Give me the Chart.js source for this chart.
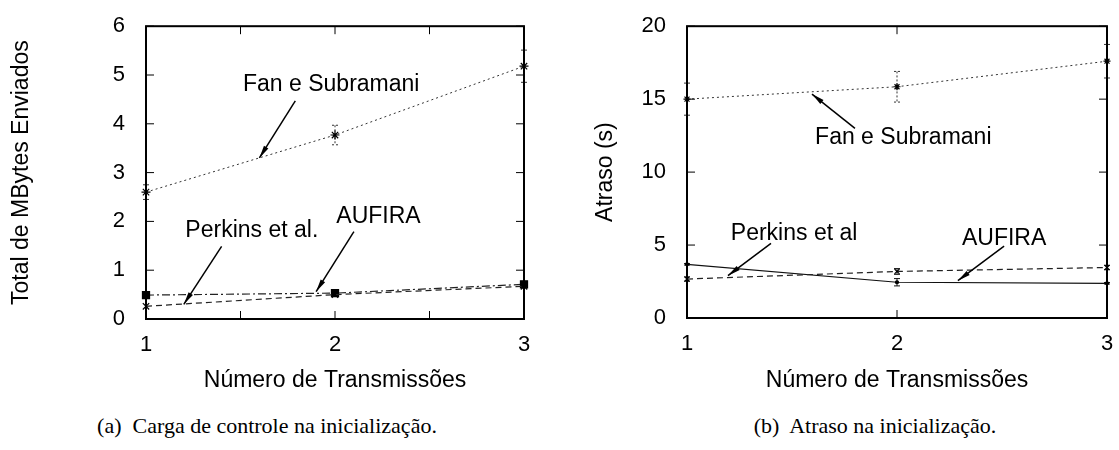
<!DOCTYPE html>
<html lang="pt">
  <head>
    <meta charset="utf-8" />
    <title>Inicialização</title>
    <style>
      body { margin: 0; background: #fff; width: 1119px; height: 450px; position: relative; overflow: hidden; }
      .box { position: absolute; top: 0; }
      .legenda {
        position: absolute; top: 415px; line-height: 22px; white-space: pre;
        font-family: "Liberation Serif", "Times New Roman", serif; font-size: 22px; color: #000;
        transform: translateX(-50%);
      }
    </style>
  </head>
  <body>
    <div class="box" style="left:0px;"><canvas id="cargaChart" width="545" height="400"></canvas></div>
    <div class="box" style="left:560px;"><canvas id="atrasoChart" width="559" height="400"></canvas></div>
    <div class="legenda" style="left:267px;">(a)  Carga de controle na inicialização.</div>
    <div class="legenda" style="left:875px;">(b)  Atraso na inicialização.</div>

    <script src="https://cdn.jsdelivr.net/npm/chart.js"></script>
    <script>
      const transmissoes = [1, 2, 3];

      // (a) carga de controle (MBytes)
      const cargaFan = [2.60, 3.77, 5.18];
      const cargaFanErr = [0.15, 0.20, 0.33];
      const cargaPerkins = [0.26, 0.50, 0.67];
      const cargaAufira = [0.49, 0.53, 0.71];

      // (b) atraso (s)
      const atrasoFan = [15.0, 15.85, 17.6];
      const atrasoFanErr = [1.1, 1.05, 1.15];
      const atrasoPerkins = [2.67, 3.19, 3.46];
      const atrasoPerkinsErr = [0.15, 0.2, 0.15];
      const atrasoAufira = [3.68, 2.45, 2.38];
      const atrasoAufiraErr = [0.05, 0.25, 0.05];

      // rótulos com seta: texto em (x, y), seta de -> para (coordenadas dos dados)
      const notasCarga = [
        { text: 'Fan e Subramani', at: [1.98, 4.81], from: [1.79, 4.47], to: [1.60, 3.30] },
        { text: 'Perkins et al.', at: [1.56, 1.81], from: [1.40, 1.49], to: [1.20, 0.30] },
        { text: 'AUFIRA', at: [2.23, 2.09], from: [2.10, 1.79], to: [1.90, 0.56] }
      ];
      const notasAtraso = [
        { text: 'Fan e Subramani', at: [2.03, 12.39], from: [1.80, 13.0], to: [1.595, 15.35] },
        { text: 'Perkins et al', at: [1.51, 5.79], from: [1.40, 5.12], to: [1.195, 2.90] },
        { text: 'AUFIRA', at: [2.51, 5.45], from: [2.51, 4.92], to: [2.29, 2.56] }
      ];

      const FONTE = "'Liberation Sans', Arial, Helvetica, sans-serif";
      Chart.defaults.font.family = FONTE;
      Chart.defaults.color = '#000';

      const pts = (ys) => transmissoes.map((x, i) => ({ x: x, y: ys[i] }));

      // moldura estilo gnuplot com marcas para dentro nos quatro lados
      const moldura = {
        id: 'moldura',
        afterDatasetsDraw(chart) {
          const { ctx, chartArea: a, scales } = chart;
          const len = 8;
          ctx.save();
          ctx.strokeStyle = '#000';
          ctx.lineWidth = 1;
          ctx.beginPath();
          scales.x.ticks.forEach(t => {
            const px = scales.x.getPixelForValue(t.value);
            ctx.moveTo(px, a.bottom); ctx.lineTo(px, a.bottom - len);
            ctx.moveTo(px, a.top); ctx.lineTo(px, a.top + len);
          });
          scales.y.ticks.forEach(t => {
            const py = scales.y.getPixelForValue(t.value);
            ctx.moveTo(a.left, py); ctx.lineTo(a.left + len, py);
            ctx.moveTo(a.right, py); ctx.lineTo(a.right - len, py);
          });
          ctx.stroke();
          ctx.lineWidth = 2;
          ctx.strokeRect(a.left, a.top, a.right - a.left, a.bottom - a.top);
          ctx.restore();
        }
      };

      // barras de erro a partir de dataset.errors
      const barrasErro = {
        id: 'barrasErro',
        beforeDatasetsDraw(chart) {
          const { ctx, scales } = chart;
          chart.data.datasets.forEach(ds => {
            if (!ds.errors) return;
            ctx.save();
            ctx.strokeStyle = ds.borderColor;
            ctx.lineWidth = 1;
            ctx.setLineDash(ds.errorDash || []);
            ctx.beginPath();
            ds.data.forEach((p, i) => {
              const e = ds.errors[i];
              const px = scales.x.getPixelForValue(p.x);
              const y1 = scales.y.getPixelForValue(p.y + e);
              const y2 = scales.y.getPixelForValue(p.y - e);
              ctx.moveTo(px, y1); ctx.lineTo(px, y2);
              ctx.moveTo(px - 3, y1); ctx.lineTo(px + 3, y1);
              ctx.moveTo(px - 3, y2); ctx.lineTo(px + 3, y2);
            });
            ctx.stroke();
            ctx.restore();
          });
        }
      };

      // textos com seta
      const notas = {
        id: 'notas',
        afterDatasetsDraw(chart, args, opts) {
          const { ctx, scales } = chart;
          const X = v => scales.x.getPixelForValue(v);
          const Y = v => scales.y.getPixelForValue(v);
          ctx.save();
          ctx.font = '23px ' + FONTE;
          ctx.fillStyle = '#000';
          ctx.strokeStyle = '#000';
          ctx.textAlign = 'center';
          ctx.textBaseline = 'middle';
          (opts.items || []).forEach(n => {
            ctx.fillText(n.text, X(n.at[0]), Y(n.at[1]));
            const x1 = X(n.from[0]), y1 = Y(n.from[1]);
            const x2 = X(n.to[0]), y2 = Y(n.to[1]);
            ctx.lineWidth = 1.5;
            ctx.beginPath(); ctx.moveTo(x1, y1); ctx.lineTo(x2, y2); ctx.stroke();
            const ang = Math.atan2(y2 - y1, x2 - x1);
            const h = 13, w = 0.2;
            ctx.beginPath();
            ctx.moveTo(x2, y2);
            ctx.lineTo(x2 - h * Math.cos(ang - w), y2 - h * Math.sin(ang - w));
            ctx.lineTo(x2 - h * Math.cos(ang + w), y2 - h * Math.sin(ang + w));
            ctx.closePath();
            ctx.fill();
          });
          ctx.restore();
        }
      };

      function eixos(cfg) {
        return {
          x: {
            type: 'linear', min: 1, max: 3,
            grid: { display: false }, border: { display: false },
            ticks: {
              stepSize: cfg.xStep, padding: 5, font: { size: 22 },
              callback: v => Number.isInteger(v) ? String(v) : ''
            },
            title: { display: true, text: 'Número de Transmissões', font: { size: 23 }, padding: { top: 0, bottom: 6 } },
            afterFit: s => { s.height = cfg.xHeight; }
          },
          y: {
            min: 0, max: cfg.yMax,
            grid: { display: false }, border: { display: false },
            ticks: { stepSize: cfg.yStep, padding: 13, font: { size: 22 } },
            title: { display: true, text: cfg.yTitle, font: { size: 23 }, padding: { top: cfg.yTitlePad, bottom: 0 } },
            afterFit: s => { s.width = cfg.yWidth; }
          }
        };
      }

      const comum = {
        responsive: false,
        animation: false,
        plugins: { legend: { display: false }, tooltip: { enabled: false } }
      };

      new Chart(document.getElementById('cargaChart'), {
        type: 'line',
        data: {
          datasets: [
            { label: 'Fan e Subramani', data: pts(cargaFan), errors: cargaFanErr, errorDash: [2, 2], clip: false,
              borderColor: '#333', borderWidth: 1, borderDash: [2, 3],
              pointStyle: 'star', pointRadius: 4.5, pointBorderWidth: 1.2, pointBorderColor: '#000' },
            { label: 'Perkins et al.', data: pts(cargaPerkins), clip: false,
              borderColor: '#222', borderWidth: 1.2, borderDash: [6, 4],
              pointStyle: 'crossRot', pointRadius: 4.5, pointBorderWidth: 1.2, pointBorderColor: '#000' },
            { label: 'AUFIRA', data: pts(cargaAufira), clip: false,
              borderColor: '#222', borderWidth: 1.2, borderDash: [8, 3, 2, 3],
              pointStyle: 'rect', pointRadius: 5, pointBackgroundColor: '#000', pointBorderColor: '#000' }
          ]
        },
        options: Object.assign({}, comum, {
          layout: { padding: { left: 0, top: 21, right: 21, bottom: 0 } },
          scales: eixos({ xStep: 0.5, xHeight: 81, yMax: 6, yStep: 1, yTitle: 'Total de MBytes Enviados', yTitlePad: 8, yWidth: 146 }),
          plugins: Object.assign({}, comum.plugins, { notas: { items: notasCarga } })
        }),
        plugins: [barrasErro, moldura, notas]
      });

      new Chart(document.getElementById('atrasoChart'), {
        type: 'line',
        data: {
          datasets: [
            { label: 'Fan e Subramani', data: pts(atrasoFan), errors: atrasoFanErr, errorDash: [2, 2], clip: false,
              borderColor: '#333', borderWidth: 1, borderDash: [2, 3],
              pointStyle: 'star', pointRadius: 3.5, pointBorderWidth: 1.2, pointBorderColor: '#000' },
            { label: 'Perkins et al', data: pts(atrasoPerkins), errors: atrasoPerkinsErr, clip: false,
              borderColor: '#222', borderWidth: 1.2, borderDash: [6, 4],
              pointStyle: 'crossRot', pointRadius: 3.5, pointBorderWidth: 1.2, pointBorderColor: '#000' },
            { label: 'AUFIRA', data: pts(atrasoAufira), errors: atrasoAufiraErr, clip: false,
              borderColor: '#111', borderWidth: 1.2,
              pointStyle: 'circle', pointRadius: 1.5, pointBackgroundColor: '#000', pointBorderColor: '#000' }
          ]
        },
        options: Object.assign({}, comum, {
          layout: { padding: { left: 0, top: 21, right: 12, bottom: 0 } },
          scales: eixos({ xStep: 1, xHeight: 82, yMax: 20, yStep: 5, yTitle: 'Atraso (s)', yTitlePad: 32, yWidth: 127 }),
          plugins: Object.assign({}, comum.plugins, { notas: { items: notasAtraso } })
        }),
        plugins: [barrasErro, moldura, notas]
      });
    </script>
  </body>
</html>
